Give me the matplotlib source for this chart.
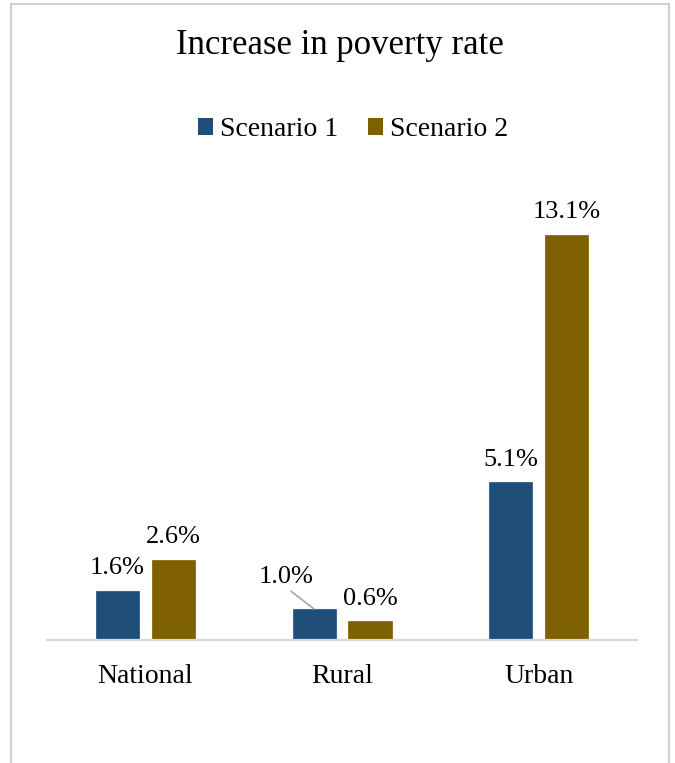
import matplotlib.pyplot as plt
from matplotlib.patches import Rectangle, Patch
import numpy as np

plt.rcParams['font.family'] = ['Liberation Serif', 'DejaVu Serif']

categories = ["National", "Rural", "Urban"]
scenario1 = [1.6, 1.0, 5.1]
scenario2 = [2.6, 0.6, 13.1]
series_names = ["Scenario 1", "Scenario 2"]
blue = "#1F4E79"
brown = "#7F6000"

fig = plt.figure(figsize=(6.75, 7.63), dpi=100)
ax = fig.add_axes([0.0696, 0.1612, 0.8744, 0.590])

x = np.arange(len(categories))
w = 0.219
off = 0.142
b1 = ax.bar(x - off, scenario1, w, color=blue, edgecolor="#2E5C88", linewidth=0.6)
b2 = ax.bar(x + off, scenario2, w, color=brown, edgecolor="#8A6C10", linewidth=0.6)

ax.set_xlim(-0.5, 2.5)
ax.set_ylim(0, 14.56)
ax.set_yticks([])
ax.set_xticks(x)
ax.set_xticklabels(categories, fontsize=20)
ax.tick_params(axis="x", length=0, pad=17)
for s in ["top", "right", "left"]:
    ax.spines[s].set_visible(False)
ax.spines["bottom"].set_color("#D9D9D9")
ax.spines["bottom"].set_linewidth(1.6)

# data labels
for i, v in enumerate(scenario1):
    if categories[i] == "Rural":
        ax.annotate(f"{v:.1f}%", xy=(x[i] - off, v), xytext=(-20, 19),
                    textcoords="offset points", ha="center", va="baseline",
                    fontsize=19,
                    arrowprops=dict(arrowstyle="-", color="#A6A6A6", lw=1.2,
                                    shrinkA=1, shrinkB=0, relpos=(0.5, 0)))
    else:
        ax.annotate(f"{v:.1f}%", xy=(x[i] - off, v), xytext=(0, 12),
                    textcoords="offset points", ha="center", va="baseline",
                    fontsize=19)
for i, v in enumerate(scenario2):
    ax.annotate(f"{v:.1f}%", xy=(x[i] + off, v), xytext=(0, 12),
                textcoords="offset points", ha="center", va="baseline",
                fontsize=19)

fig.text(340 / 675, 1 - 45 / 763, "Increase in poverty rate", ha="center",
         va="center", fontsize=25)

handles = [Patch(facecolor=blue), Patch(facecolor=brown)]
fig.legend(handles, series_names, loc="center", bbox_to_anchor=(353 / 675, 1 - 130 / 763),
           ncol=2, frameon=False, fontsize=20, handlelength=0.54, handleheight=0.54,
           handletextpad=0.25, columnspacing=1.1, borderpad=0)

fig.patches.append(Rectangle((11 / 675, -0.05), (669 - 11) / 675, 1.05 - 4 / 763,
                             transform=fig.transFigure, fill=False,
                             edgecolor="#D0D0D0", linewidth=1.5))

fig.savefig("out.png", dpi=100)
